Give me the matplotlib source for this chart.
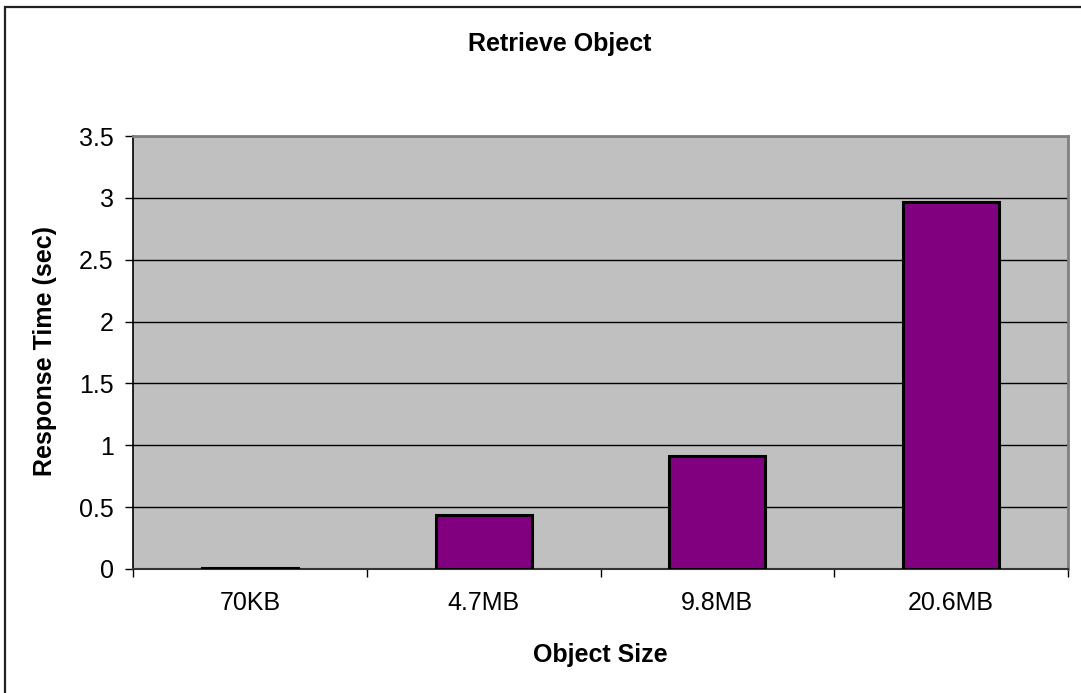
#!/usr/bin/env python3
# -*- coding: utf-8 -*-
import matplotlib
matplotlib.use('Agg')
import matplotlib.pyplot as plt
from matplotlib.patches import Rectangle
import numpy as np

# Data
sizes = ['70KB', '4.7MB', '9.8MB', '20.6MB']
resp_time = [0.01, 0.44, 0.91, 2.97]
yticks = [0, 0.5, 1, 1.5, 2, 2.5, 3, 3.5]

plt.rcParams['font.family'] = ['Liberation Sans', 'DejaVu Sans']

W, H = 1081, 693
fig = plt.figure(figsize=(W / 100, H / 100), dpi=100)

# outer chart border (left and top visible, the rest is cropped)
fig.patches.append(Rectangle((5 / W, -0.1), 1.2, (H - 7) / H + 0.1,
                             transform=fig.transFigure, fill=False,
                             edgecolor='#222222', lw=1.6))

ax = fig.add_axes([133 / W, (H - 569) / H, (1068 - 133) / W, (569 - 136) / H])
ax.set_facecolor('#C0C0C0')

x = np.arange(len(sizes))
ax.bar(x, resp_time, width=0.41, color='#800080', edgecolor='black',
       linewidth=2.2, zorder=3)

ax.set_xlim(-0.5, len(sizes) - 0.5)
ax.set_ylim(0, 3.5)
ax.set_yticks(yticks)
ax.set_yticklabels(['0', '0.5', '1', '1.5', '2', '2.5', '3', '3.5'], fontsize=18)
ax.yaxis.grid(True, color='black', lw=1.0, zorder=1)
ax.set_axisbelow(True)

# ticks on category boundaries, labels at centres
ax.set_xticks(np.arange(-0.5, len(sizes), 1.0))
ax.set_xticklabels([])
ax.set_xticks(x, minor=True)
ax.set_xticklabels(sizes, minor=True, fontsize=18)
ax.tick_params(axis='x', which='major', length=6, width=1, direction='out')
ax.tick_params(axis='x', which='minor', length=0, pad=16)
ax.tick_params(axis='y', length=6, width=1, direction='out', pad=8)

for s in ['top', 'right']:
    ax.spines[s].set_color('#808080')
    ax.spines[s].set_linewidth(2)
ax.spines['left'].set_color('black')
ax.spines['bottom'].set_color('#333333')
ax.spines['left'].set_linewidth(1.2)
ax.spines['bottom'].set_linewidth(1.5)

fig.text(560 / W, 1 - 44 / H, 'Retrieve Object', fontsize=18,
         fontweight='bold', ha='center', va='center')
fig.text(600 / W, 1 - 655 / H, 'Object Size', fontsize=18,
         fontweight='bold', ha='center', va='center')
fig.text(45 / W, 1 - 351 / H, 'Response Time (sec)', fontsize=18,
         fontweight='bold', ha='center', va='center', rotation=90)

plt.savefig('out.png', dpi=100)
plt.close()
